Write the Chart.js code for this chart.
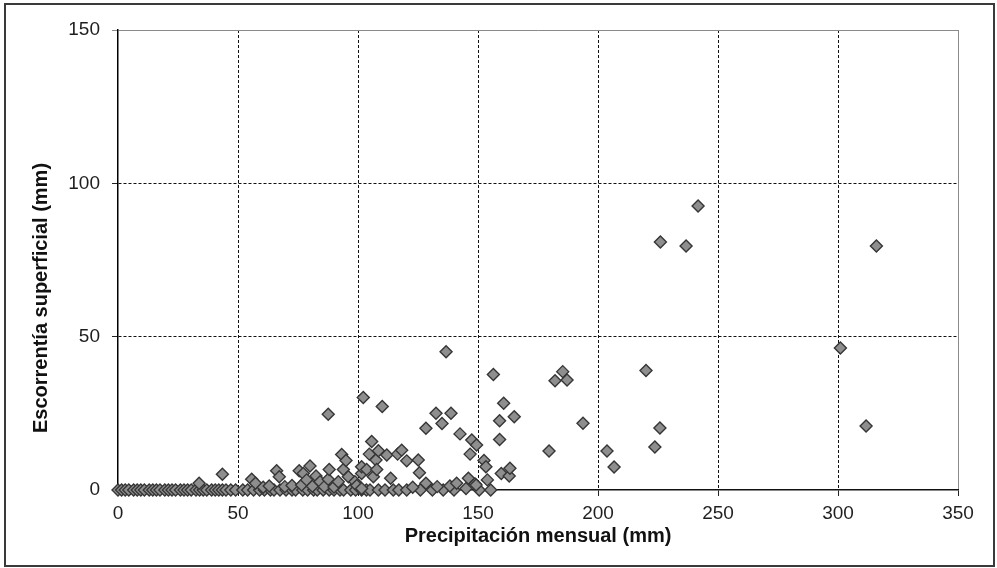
<!DOCTYPE html>
<html>
<head>
<meta charset="utf-8">
<script src="https://cdn.jsdelivr.net/npm/chart.js@4/dist/chart.umd.min.js"></script>
<style>
html,body{margin:0;padding:0;background:#ffffff;}
#wrap{position:relative;width:997px;height:568px;overflow:hidden;}
#c{position:absolute;left:0;top:0;}
#frame{position:absolute;left:4px;top:3px;width:987px;height:560px;border:2px solid #3a3a3a;pointer-events:none;}
</style>
</head>
<body>
<div id="wrap">
<canvas id="c" width="997" height="568"></canvas>
<div id="frame"></div>
</div>
<script>
// ---- Data ----
const xTickValues = [0, 50, 100, 150, 200, 250, 300, 350];
const yTickValues = [0, 50, 100, 150];
const xTitle = 'Precipitación mensual (mm)';
const yTitle = 'Escorrentía superficial (mm)';

// Months with no runoff (y = 0)
const precipZero = [0, 1.5, 3, 4.5, 6.5, 8, 9.5, 11, 13, 14.5, 16, 17.5, 19.5, 21, 22.5, 24, 26, 27.5, 29, 30.5, 32.5, 34, 35.5, 37, 39, 40.5, 42, 43.5, 45, 47,
  49, 52, 54, 56.5, 59, 61, 63.5, 65, 67.5, 70, 72.5, 74, 77, 79, 81.5, 83, 85.5, 88, 90, 92.5, 94, 97, 99, 101.5, 103.5, 105, 108.5, 111.25, 114.7, 117, 120.3, 126, 131, 135.5, 140, 150.5, 155.3];
const runoffZero = precipZero.map(() => 0);

// Months with runoff
const precipRunoff = [33.8, 43.5, 55.7, 57.3, 60.5, 63, 66.1, 67.2, 69.5, 72.5, 75.5, 76.5, 77.2, 78.6, 80, 81, 82.5, 84.2, 86, 87.6, 88, 87.6, 90, 91.8, 93.2, 93.9, 95, 96, 98.7, 99.5,
  101.5, 101.5, 101.5, 102.2, 103.6, 104.7, 105.7, 106.4, 107.5, 107.8, 108.5, 110.1, 112, 113.6, 116.5, 118.2, 120.3, 122.8, 125.1, 125.6, 128.3, 128.3, 132.5, 133, 135, 136.7, 138.3, 138.75, 141.1, 142.5,
  145, 146, 146.7, 147.4, 148.75, 149.2, 149.4, 152.5, 153.3, 153.9, 156.4, 159, 159, 159.7, 160.7, 163, 163.3, 165.1, 179.6, 182.1, 185.3, 187.1, 193.75, 203.75, 206.7, 220, 223.7, 225.8, 226, 236.7,
  241.7, 301, 311.7, 316];
const runoffValues = [2.2, 5.1, 3.5, 2.2, 0.9, 1.3, 6.3, 4.3, 1.1, 1.5, 6.3, 1.6, 5.4, 3.3, 7.8, 1.2, 4.6, 2.7, 1.1, 3.5, 6.7, 24.7, 1.0, 2.7, 11.6, 6.7, 9.6, 4.3, 2.7, 1.5,
  5.4, 7.6, 0.5, 30.2, 6.7, 11.7, 15.8, 4.3, 9.8, 6.7, 12.8, 27.2, 11.4, 3.8, 11.7, 13, 9.5, 0.9, 9.8, 5.6, 20.1, 2.2, 25, 1.1, 21.7, 45.1, 1.3, 25, 2.2, 18.3,
  0.5, 3.8, 11.7, 16.3, 2, 1.6, 14.7, 9.6, 7.6, 3.3, 37.7, 22.6, 16.5, 5.4, 28.3, 4.6, 7.1, 23.9, 12.7, 35.6, 38.6, 35.9, 21.8, 12.7, 7.5, 39, 14, 20.2, 80.9, 79.6,
  92.6, 46.3, 20.9, 79.6];

// ---- Build points ----
const points = [];
precipZero.forEach((x, i) => points.push({x: x, y: runoffZero[i]}));
precipRunoff.forEach((x, i) => points.push({x: x, y: runoffValues[i]}));

const FONT = "'Liberation Sans', Arial, sans-serif";

const yTitlePlugin = {
  id: 'yTitle',
  afterDraw(chart) {
    const ctx = chart.ctx;
    ctx.save();
    ctx.translate(41, 298);
    ctx.rotate(-Math.PI / 2);
    ctx.font = "bold 20px " + FONT;
    ctx.fillStyle = '#111';
    ctx.textAlign = 'center';
    ctx.textBaseline = 'middle';
    ctx.fillText(yTitle, 0, 0);
    ctx.restore();
  }
};

const isTick = (c, v) => c && c.type === 'tick' && c.tick && c.tick.value === v;
const gridDash = (c, edgeVal) => (c && c.type === 'tick' && c.tick && c.tick.value !== edgeVal) ? [3, 2] : [];

new Chart(document.getElementById('c'), {
  type: 'scatter',
  data: {
    datasets: [{
      data: points,
      pointStyle: 'rectRot',
      pointRadius: 6,
      pointHoverRadius: 6,
      backgroundColor: '#8e8e8e',
      borderColor: '#363636',
      borderWidth: 1.4,
      clip: false
    }]
  },
  options: {
    responsive: false,
    animation: false,
    events: [],
    layout: {padding: {top: 30, right: 39, bottom: 0, left: 0}},
    plugins: {legend: {display: false}, tooltip: {enabled: false}},
    scales: {
      x: {
        type: 'linear',
        min: 0, max: 350,
        afterBuildTicks: (s) => { s.ticks = xTickValues.map(v => ({value: v})); },
        afterFit: (s) => { s.height = 78; },
        ticks: {font: {family: FONT, size: 19}, color: '#1e1e1e', padding: 6},
        grid: {
          color: (c) => isTick(c, 350) ? '#8a8a8a' : (isTick(c, 0) ? 'rgba(0,0,0,0)' : '#111'),
          lineWidth: 1,
          tickLength: 6,
          tickColor: '#222',
          tickBorderDash: []
        },
        border: {
          display: true, color: '#111', width: 1.5,
          dash: (c) => gridDash(c, 350)
        },
        title: {display: true, text: xTitle, font: {family: FONT, size: 20, weight: 'bold'}, color: '#111', padding: {top: 0, bottom: 20}}
      },
      y: {
        type: 'linear',
        min: 0, max: 150,
        afterBuildTicks: (s) => { s.ticks = yTickValues.map(v => ({value: v})); },
        afterFit: (s) => { s.width = 118; },
        ticks: {font: {family: FONT, size: 19}, color: '#1e1e1e', padding: 12},
        grid: {
          color: (c) => isTick(c, 150) ? '#8a8a8a' : (isTick(c, 0) ? 'rgba(0,0,0,0)' : '#111'),
          lineWidth: 1,
          tickLength: 6,
          tickColor: (c) => isTick(c, 150) ? '#8a8a8a' : '#222',
          tickBorderDash: []
        },
        border: {
          display: true, color: '#000', width: 1.5,
          dash: (c) => gridDash(c, 150)
        },
        title: {display: false}
      }
    }
  },
  plugins: [yTitlePlugin]
});
</script>
</body>
</html>
